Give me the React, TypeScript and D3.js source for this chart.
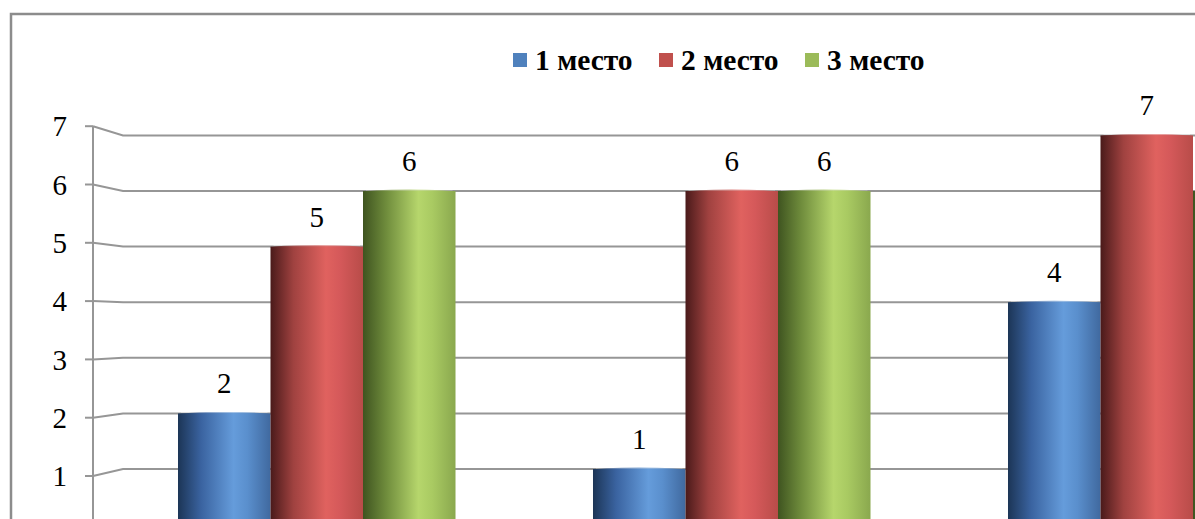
import React from 'react'
import * as d3 from 'd3';

const categories = ['Категория 1', 'Категория 2', 'Категория 3'];
const seriesNames = ['1 место', '2 место', '3 место'];
const place1 = [2, 1, 4];
const place2 = [5, 6, 7];
const place3 = [6, 6, 6];
const yTicks = [1, 2, 3, 4, 5, 6, 7];

const seriesValues = [place1, place2, place3];

// dark edge, shade, highlight, after highlight, right edge for the cylinder look
const shades = [
  ['#1c3556', '#3a63a0', '#659cdb', '#5a8fcd', '#40699f'],
  ['#4a1a1a', '#a04240', '#e0625f', '#d5595a', '#b84c49'],
  ['#3f5420', '#6f8c3c', '#b6d66c', '#a9ca62', '#8aa84e'],
];
const legendColors = ['#4f81bd', '#c0504d', '#9bbb59'];

const App: React.FC = () => {
  const width = 1195;
  const height = 519;

  // side wall (tick marks) and back wall (grid + bars) scales
  const tickScale = d3.scaleLinear().domain([0, 7]).range([534.3, 126.2]);
  const gridScale = d3.scaleLinear().domain([0, 7]).range([524.6, 135.4]);

  const x = d3.scaleBand<string>()
    .domain(categories)
    .range([109.25, 1354.25])
    .paddingInner(0.3313)
    .paddingOuter(0.3313 / 2);

  const xs = d3.scaleBand<string>()
    .domain(seriesNames)
    .range([0, x.bandwidth()]);

  const axisX = 93;
  const wallX = 123;

  return (
    <div style={{ position: 'absolute', left: 0, top: 0, fontFamily: 'Liberation Serif, serif' }}>
      <svg width={width} height={height} className='chart'>
        <style>{`.chart text { font-family: 'Liberation Serif', 'Times New Roman', serif; }`}</style>
        <defs>
          {shades.map((s, i) => (
            <linearGradient key={i} id={`g${i}`} x1="0" x2="1" y1="0" y2="0">
              <stop offset="0" stopColor={s[0]} />
              <stop offset="0.25" stopColor={s[1]} />
              <stop offset="0.6" stopColor={s[2]} />
              <stop offset="0.75" stopColor={s[3]} />
              <stop offset="1" stopColor={s[4]} />
            </linearGradient>
          ))}
        </defs>
        <rect x={0} y={0} width={width} height={height} fill='#fff' />
        <rect x={11} y={14} width={1400} height={800} fill='none' stroke='#8c8c8c' strokeWidth={2.5} />

        {/* y axis */}
        <line x1={axisX} x2={axisX} y1={tickScale(7)} y2={height} stroke='#969696' strokeWidth={2} />
        {yTicks.map(t => (
          <g key={t}>
            <line x1={85} x2={axisX} y1={tickScale(t)} y2={tickScale(t)} stroke='#969696' strokeWidth={2} />
            <polyline
              points={`${axisX},${tickScale(t)} ${wallX},${gridScale(t)} ${width},${gridScale(t)}`}
              fill='none'
              stroke='#969696'
              strokeWidth={2}
            />
            <text
              x={67}
              y={tickScale(t)}
              dy="0.35em"
              textAnchor='end'
              fontSize={29}
              fill='#000'
            >
              {t}
            </text>
          </g>
        ))}

        {/* bars */}
        {categories.map((c, ci) => (
          <g key={c} transform={`translate(${x(c)},0)`}>
            {seriesNames.map((s, si) => {
              const v = seriesValues[si][ci];
              const bx = xs(s) as number;
              const bw = xs.bandwidth();
              const top = gridScale(v);
              const labelX = (x(c) as number) + bx + bw / 2;
              return (
                <g key={s}>
                  <rect x={bx} y={top} width={bw} height={gridScale(0) - top + 10} fill={`url(#g${si})`} />
                  <ellipse cx={bx + bw / 2} cy={top + 1} rx={bw / 2} ry={2.5} fill={`url(#g${si})`} opacity={0.9} />
                  <line x1={bx + 3} x2={bx + bw - 3} y1={top - 1} y2={top - 1} stroke='#fff' strokeOpacity={0.4} strokeWidth={1} />
                  {labelX < width && (
                    <text
                      x={bx + bw / 2}
                      y={top - 20}
                      textAnchor='middle'
                      fontSize={29}
                      fill='#000'
                    >
                      {v}
                    </text>
                  )}
                </g>
              );
            })}
          </g>
        ))}

        {/* legend */}
        {seriesNames.map((s, i) => (
          <g key={s} transform={`translate(${513 + i * 146},53)`}>
            <rect x={0} y={0} width={14} height={14} fill={legendColors[i]} />
            <text x={22} y={17} fontWeight='bold' fontSize={29.5} fill='#000'>
              {s}
            </text>
          </g>
        ))}
      </svg>
    </div>
  )
}

export default App
